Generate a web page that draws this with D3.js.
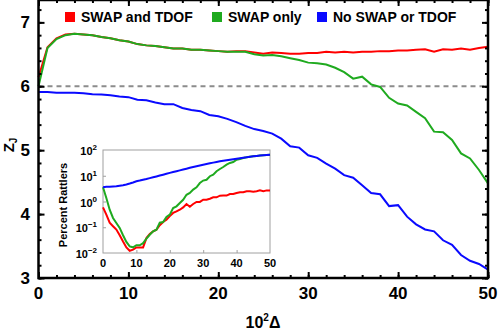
<!DOCTYPE html>
<html>
<head>
<meta charset="utf-8">
<script src="https://cdn.jsdelivr.net/npm/d3@7"></script>
<style>
  body { margin: 0; background: #fff; }
  svg { display: block; font-family: "Liberation Sans", Arial, sans-serif; font-weight: bold; }
</style>
</head>
<body>
<div id="chart"></div>
<script>
// main panel: Z_J against 10^2 Delta (step 1)
const delta = d3.range(0, 51);
const swapTdof = [6.14, 6.61, 6.75, 6.81, 6.82, 6.81, 6.80, 6.77, 6.75, 6.72, 6.70, 6.66, 6.64, 6.63, 6.61, 6.59, 6.59, 6.57, 6.57, 6.56,
  6.55, 6.54, 6.55, 6.55, 6.53, 6.51, 6.53, 6.52, 6.51, 6.51, 6.52, 6.52, 6.54, 6.53, 6.54, 6.53, 6.54, 6.54, 6.55, 6.55,
  6.56, 6.56, 6.57, 6.58, 6.54, 6.58, 6.57, 6.59, 6.57, 6.60, 6.62];
const swapOnly = [6.00, 6.60, 6.74, 6.80, 6.82, 6.81, 6.80, 6.77, 6.75, 6.72, 6.70, 6.66, 6.64, 6.63, 6.61, 6.59, 6.59, 6.57, 6.57, 6.56,
  6.55, 6.54, 6.54, 6.54, 6.50, 6.48, 6.49, 6.47, 6.44, 6.41, 6.37, 6.36, 6.34, 6.29, 6.22, 6.12, 6.15, 6.03, 5.99, 5.82,
  5.73, 5.70, 5.60, 5.50, 5.29, 5.28, 5.16, 4.95, 4.87, 4.69, 4.48];
const noSwap = [5.91, 5.91, 5.90, 5.90, 5.90, 5.89, 5.875, 5.87, 5.86, 5.84, 5.83, 5.79, 5.78, 5.745, 5.72, 5.72, 5.66, 5.63, 5.61, 5.55,
  5.53, 5.49, 5.44, 5.38, 5.33, 5.30, 5.26, 5.18, 5.06, 5.04, 4.92, 4.88, 4.79, 4.71, 4.61, 4.57, 4.45, 4.33, 4.31, 4.125,
  4.14, 3.96, 3.84, 3.76, 3.73, 3.59, 3.52, 3.36, 3.27, 3.22, 3.13];

// inset: percent rattlers (log scale)
const rattSwapTdof = [0.59, 0.31, 0.15, 0.11, 0.081, 0.049, 0.028, 0.0165, 0.0122, 0.0135, 0.0165, 0.0165, 0.0165, 0.038, 0.055, 0.069, 0.08, 0.12, 0.16, 0.196,
  0.27, 0.36, 0.41, 0.48, 0.59, 0.8, 0.63, 0.8, 0.96, 0.96, 1.17, 1.17, 1.28, 1.45, 1.45, 1.68, 1.7, 1.7, 1.96, 1.96,
  2.14, 2.3, 2.3, 2.5, 2.5, 2.4, 2.5, 2.7, 2.5, 2.7, 2.7];
const rattSwapOnly = [3.6, 1.37, 0.48, 0.23, 0.147, 0.094, 0.049, 0.027, 0.018, 0.0166, 0.02, 0.02, 0.024, 0.036, 0.051, 0.069, 0.08, 0.15, 0.16, 0.25,
  0.31, 0.56, 0.65, 0.87, 1.17, 1.82, 2.14, 2.9, 3.55, 5.2, 6.5, 7.0, 9.6, 11, 14.9, 18.3, 21.9, 27, 31.5, 34,
  42, 45, 49, 52, 55, 57, 59, 61, 63, 64, 66];
const rattNoSwap = [3.6, 3.7, 3.7, 3.8, 3.9, 4.1, 4.3, 4.6, 5.0, 5.5, 6.1, 6.5, 7.0, 7.5, 8.1, 8.7, 9.4, 10.2, 11.0, 11.9,
  12.9, 13.9, 15.0, 16.2, 17.5, 18.8, 20.3, 21.8, 23.4, 25.0, 26.8, 28.5, 30.4, 32.3, 34.3, 36.4, 38.3, 40.2, 42.1, 44.0,
  46, 48, 50, 52, 55, 57, 59, 61, 63, 64.5, 66];

const xTicks = [0, 10, 20, 30, 40, 50];
const yTicks = [3, 4, 5, 6, 7];
const insetYTicks = [-2, -1, 0, 1, 2];

const series = [
  { name: "SWAP and TDOF", values: swapTdof, ratt: rattSwapTdof, color: "#ff0000" },
  { name: "SWAP only", values: swapOnly, ratt: rattSwapOnly, color: "#1faa1f" },
  { name: "No SWAP or TDOF", values: noSwap, ratt: rattNoSwap, color: "#0a0aff" }
];

const W = 498, H = 331;
const svg = d3.select("#chart").append("svg").attr("width", W).attr("height", H);

const x = d3.scaleLinear().domain([0, 50]).range([38.5, 488]);
const y = d3.scaleLinear().domain([3, 7.35]).range([278, 0]);

// dashed reference line at Z_J = 6
svg.append("line")
  .attr("x1", x(0)).attr("x2", x(50)).attr("y1", y(6)).attr("y2", y(6))
  .attr("stroke", "#8c8c8c").attr("stroke-width", 2).attr("stroke-dasharray", "5,4");

const line = d3.line().x((d, i) => x(delta[i])).y(d => y(d));
series.forEach(s => {
  svg.append("path").datum(s.values)
    .attr("fill", "none").attr("stroke", s.color).attr("stroke-width", 2).attr("d", line);
});

// frame ticks (inward), minor + major
const gB = svg.append("g").attr("transform", `translate(0,${y(3)})`);
gB.call(d3.axisTop(x).tickValues(d3.range(0, 51, 2)).tickSize(3).tickFormat(""));
gB.append("g").call(d3.axisTop(x).tickValues(xTicks).tickSize(6).tickFormat(""));
const gT = svg.append("g").attr("transform", `translate(0,${y(7.35)})`);
gT.call(d3.axisBottom(x).tickValues(d3.range(0, 51, 2)).tickSize(3).tickFormat(""));
gT.append("g").call(d3.axisBottom(x).tickValues(xTicks).tickSize(6).tickFormat(""));
const gL = svg.append("g").attr("transform", `translate(${x(0)},0)`);
gL.call(d3.axisRight(y).tickValues(d3.range(3, 7.35, 0.2)).tickSize(3).tickFormat(""));
gL.append("g").call(d3.axisRight(y).tickValues(yTicks).tickSize(6).tickFormat(""));
const gR = svg.append("g").attr("transform", `translate(${x(50)},0)`);
gR.call(d3.axisLeft(y).tickValues(d3.range(3, 7.35, 0.2)).tickSize(3).tickFormat(""));
gR.append("g").call(d3.axisLeft(y).tickValues(yTicks).tickSize(6).tickFormat(""));
svg.selectAll(".domain").remove();
svg.selectAll(".tick line").attr("stroke", "#000").attr("stroke-width", 2);

svg.append("rect")
  .attr("x", x(0)).attr("y", y(7.35)).attr("width", x(50) - x(0)).attr("height", y(3) - y(7.35))
  .attr("fill", "none").attr("stroke", "#000").attr("stroke-width", 2.5);

// tick labels
svg.append("g").selectAll("text").data(xTicks).join("text")
  .attr("x", d => x(d)).attr("y", 299).attr("text-anchor", "middle")
  .attr("font-size", 17).text(d => d);
svg.append("g").selectAll("text").data(yTicks).join("text")
  .attr("x", 30).attr("y", d => y(d) + 6).attr("text-anchor", "end")
  .attr("font-size", 17).text(d => d);

// axis titles
const yl = svg.append("text").attr("transform", "translate(14,145) rotate(-90)")
  .attr("text-anchor", "middle").attr("font-size", 15);
yl.append("tspan").text("Z");
yl.append("tspan").attr("font-size", 10).attr("dy", 3).text("J");
const xl = svg.append("text").attr("x", 263).attr("y", 328).attr("text-anchor", "middle").attr("font-size", 16);
xl.append("tspan").text("10");
xl.append("tspan").attr("font-size", 10).attr("dy", -7).text("2");
xl.append("tspan").attr("dy", 7).text("Δ");

// legend
const legendX = [65, 212, 317];
const legend = svg.append("g").selectAll("g").data(series).join("g")
  .attr("transform", (d, i) => `translate(${legendX[i]},12)`);
legend.append("rect").attr("width", 10).attr("height", 10).attr("fill", d => d.color);
legend.append("text").attr("x", 16).attr("y", 10).attr("font-size", 14).text(d => d.name);

// inset
const ix = d3.scaleLinear().domain([0, 50]).range([103, 270]);
const iy = d3.scaleLog().domain([0.01, 100]).range([253, 150]);
const inset = svg.append("g");
inset.append("rect")
  .attr("x", ix(0)).attr("y", iy(100)).attr("width", ix(50) - ix(0)).attr("height", iy(0.01) - iy(100))
  .attr("fill", "#fff").attr("stroke", "#a0a0a0").attr("stroke-width", 1);
const iline = d3.line().x((d, i) => ix(delta[i])).y(d => iy(d));
series.forEach(s => {
  inset.append("path").datum(s.ratt)
    .attr("fill", "none").attr("stroke", s.color).attr("stroke-width", 2).attr("d", iline);
});
inset.append("g").attr("transform", `translate(0,${iy(0.01)})`)
  .call(d3.axisTop(ix).tickValues([10, 20, 30, 40]).tickSize(3).tickFormat(""))
  .call(g => g.select(".domain").remove())
  .selectAll("line").attr("stroke", "#a0a0a0");
inset.append("g").attr("transform", `translate(${ix(0)},0)`)
  .call(d3.axisRight(iy).tickValues([0.1, 1, 10]).tickSize(3).tickFormat(""))
  .call(g => g.select(".domain").remove())
  .selectAll("line").attr("stroke", "#a0a0a0");
inset.append("g").selectAll("text").data(xTicks).join("text")
  .attr("x", d => ix(d)).attr("y", 267).attr("text-anchor", "middle")
  .attr("font-size", 11).text(d => d);
const iyl = inset.append("g").selectAll("text").data(insetYTicks).join("text")
  .attr("x", 97).attr("y", d => iy(Math.pow(10, d)) + 5).attr("text-anchor", "end").attr("font-size", 11);
iyl.append("tspan").text("10");
iyl.append("tspan").attr("font-size", 8).attr("dy", -5).text(d => d < 0 ? "\u2212" + (-d) : d);
inset.append("text").attr("transform", "translate(67,205) rotate(-90)")
  .attr("text-anchor", "middle").attr("font-size", 11).text("Percent Rattlers");
</script>
</body>
</html>
